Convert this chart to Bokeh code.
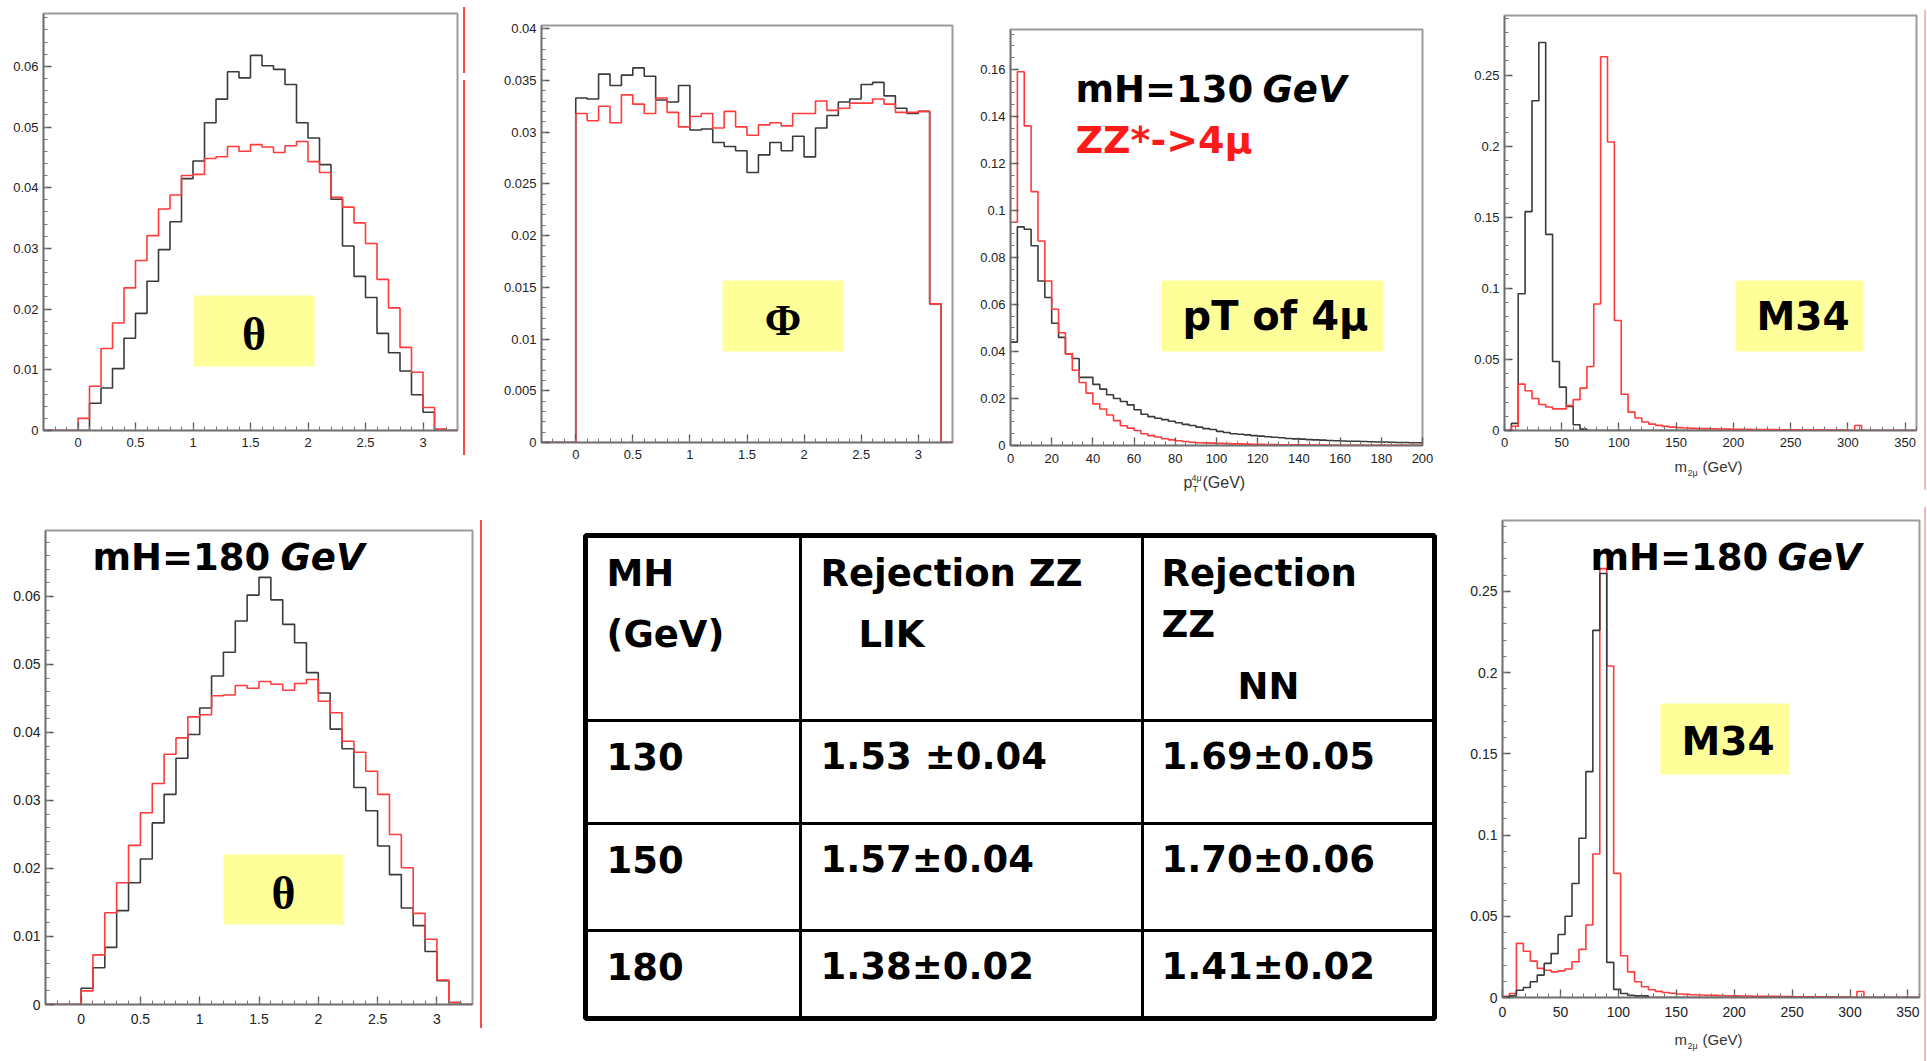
import numpy as np
from bokeh.plotting import figure
from bokeh.models import (Range1d, FixedTicker, CustomJSTickFormatter, BoxAnnotation,
                          Label, Spacer, Div)
from bokeh.layouts import row, column
from bokeh.embed import file_html
from bokeh.resources import INLINE
from bokeh.core.properties import value

# ------------------------------------------------------------------ data
theta_edges = [round(0.1 * i, 1) for i in range(33)]          # 0 .. 3.2
theta130_bkg = [0.0, 0.0045, 0.0070, 0.0102, 0.0152, 0.0193, 0.0246, 0.0298,
                0.0344, 0.0415, 0.0444, 0.0507, 0.0546, 0.0591, 0.0581, 0.0618,
                0.0601, 0.0595, 0.0570, 0.0507, 0.0482, 0.0438, 0.0381, 0.0304,
                0.0254, 0.0219, 0.0160, 0.0128, 0.0098, 0.0059, 0.0030, 0.0002]
theta130_sig = [0.0020, 0.0073, 0.0135, 0.0177, 0.0235, 0.0280, 0.0321, 0.0365,
                0.0388, 0.0420, 0.0422, 0.0448, 0.0451, 0.0468, 0.0460, 0.0471,
                0.0467, 0.0458, 0.0469, 0.0476, 0.0443, 0.0425, 0.0384, 0.0368,
                0.0342, 0.0308, 0.0249, 0.0202, 0.0137, 0.0096, 0.0038, 0.0002]
theta180_bkg = [0.0024, 0.0054, 0.0084, 0.0138, 0.0179, 0.0214, 0.0267, 0.0309,
                0.0362, 0.0397, 0.0436, 0.0483, 0.0518, 0.0564, 0.0602, 0.0628,
                0.0595, 0.0559, 0.0532, 0.0488, 0.0458, 0.0405, 0.0376, 0.0319,
                0.0285, 0.0233, 0.0191, 0.0142, 0.0116, 0.0078, 0.0035, 0.0003]
theta180_sig = [0.0020, 0.0073, 0.0135, 0.0179, 0.0234, 0.0282, 0.0325, 0.0368,
                0.0392, 0.0423, 0.0426, 0.0454, 0.0455, 0.0469, 0.0465, 0.0475,
                0.0471, 0.0462, 0.0472, 0.0478, 0.0446, 0.0429, 0.0387, 0.0371,
                0.0343, 0.0309, 0.0250, 0.0201, 0.0134, 0.0096, 0.0036, 0.0003]

phi_edges = [round(0.1 * i, 1) for i in range(33)]
phi_bkg = [0.0333, 0.0332, 0.0356, 0.0345, 0.0355, 0.0362, 0.0354, 0.0331,
           0.0329, 0.0345, 0.0302, 0.0303, 0.0290, 0.0286, 0.0282, 0.0261,
           0.0278, 0.0290, 0.0282, 0.0296, 0.0276, 0.0304, 0.0316, 0.0329,
           0.0332, 0.0346, 0.0348, 0.0335, 0.0323, 0.0318, 0.0320, 0.0134]
phi_sig = [0.0318, 0.0311, 0.0325, 0.0309, 0.0336, 0.0327, 0.0318, 0.0333,
           0.0319, 0.0305, 0.0315, 0.0318, 0.0304, 0.0320, 0.0305, 0.0297,
           0.0307, 0.0309, 0.0306, 0.0318, 0.0318, 0.0330, 0.0321, 0.0323,
           0.0328, 0.0328, 0.0332, 0.0327, 0.0319, 0.0319, 0.0320, 0.0134]

pt_edges = [200.0 * i / 60 for i in range(61)]
pt_bkg = [0.044, 0.093, 0.092, 0.085, 0.070, 0.063, 0.052, 0.046, 0.039, 0.037,
          0.029, 0.029, 0.026, 0.024, 0.0216, 0.020, 0.0187, 0.0173, 0.0152, 0.0133,
          0.0123, 0.0116, 0.011, 0.0103, 0.0097, 0.009, 0.0085, 0.0078, 0.0072, 0.0068,
          0.006, 0.0055, 0.005, 0.0048, 0.0045, 0.0042, 0.004, 0.0037, 0.0035, 0.0033,
          0.003, 0.0028, 0.0027, 0.0025, 0.0024, 0.0023, 0.0021, 0.002, 0.0019, 0.0018,
          0.0018, 0.0017, 0.0016, 0.0015, 0.0015, 0.0014, 0.0013, 0.0013, 0.0012, 0.0012]
pt_sig = [0.095, 0.159, 0.136, 0.108, 0.087, 0.070, 0.058, 0.048, 0.039, 0.032,
          0.0268, 0.0223, 0.0177, 0.0155, 0.013, 0.0106, 0.0084, 0.0074, 0.0064, 0.005,
          0.0042, 0.0036, 0.0029, 0.0024, 0.002, 0.0017, 0.0014, 0.0012, 0.0011, 0.001,
          0.0009, 0.0008, 0.0007, 0.0007, 0.0006, 0.0005, 0.0005, 0.0004, 0.0004, 0.0003,
          0.0003, 0.0003, 0.0003, 0.0002, 0.0002, 0.0002, 0.0001, 0.0001, 0.0001, 0.0001,
          0.0001, 0.0001, 0.0001, 0.0001, 0.0001, 0.0001, 0.0001, 0.0001, 0.0001, 0.0001]

m34_edges = [6 * i for i in range(61)]
m34_130_bkg = [0.0, 0.005, 0.0962, 0.154, 0.232, 0.273, 0.138, 0.0486, 0.0305, 0.017,
               0.004, 0.001, 0.0, 0.0, 0.0, 0.0, 0.0, 0.0, 0.0, 0.0,
               0.0, 0.0, 0.0, 0.0, 0.0, 0.0, 0.0, 0.0, 0.0, 0.0,
               0.0, 0.0, 0.0, 0.0, 0.0, 0.0, 0.0, 0.0, 0.0, 0.0,
               0.0, 0.0, 0.0, 0.0, 0.0, 0.0, 0.0, 0.0, 0.0, 0.0,
               0.0, 0.0, 0.0, 0.0, 0.0, 0.0, 0.0, 0.0, 0.0, 0.0]
m34_130_sig = [0.0, 0.003, 0.0326, 0.028, 0.0225, 0.0183, 0.0165, 0.0152, 0.0152, 0.0176,
               0.0217, 0.0298, 0.045, 0.089, 0.263, 0.203, 0.0774, 0.0255, 0.0129, 0.0088,
               0.006, 0.0045, 0.0036, 0.0029, 0.0024, 0.002, 0.0018, 0.0016, 0.0014, 0.0013,
               0.0012, 0.0011, 0.001, 0.0009, 0.0008, 0.0008, 0.0007, 0.0007, 0.0006, 0.0006,
               0.0005, 0.0005, 0.0005, 0.0004, 0.0004, 0.0004, 0.0003, 0.0003, 0.0003, 0.0003,
               0.0, 0.0035, 0.0, 0.0, 0.0, 0.0, 0.0, 0.0, 0.0, 0.0]
m34_180_bkg = [0.0005, 0.001, 0.0045, 0.0062, 0.0097, 0.0138, 0.021, 0.027, 0.0388, 0.050,
               0.0702, 0.098, 0.139, 0.226, 0.261, 0.0216, 0.005, 0.0025, 0.0014, 0.001,
               0.001, 0.0, 0.0, 0.0, 0.0, 0.0, 0.0, 0.0, 0.0, 0.0,
               0.0, 0.0, 0.0, 0.0, 0.0, 0.0, 0.0, 0.0, 0.0, 0.0,
               0.0, 0.0, 0.0, 0.0, 0.0, 0.0, 0.0, 0.0, 0.0, 0.0,
               0.0, 0.0, 0.0, 0.0, 0.0, 0.0, 0.0, 0.0, 0.0, 0.0]
m34_180_sig = [0.0008, 0.0025, 0.0333, 0.0285, 0.0224, 0.0179, 0.0168, 0.0158, 0.0164, 0.0175,
               0.022, 0.0296, 0.0446, 0.0883, 0.264, 0.204, 0.0764, 0.0257, 0.0158, 0.0097,
               0.0066, 0.0048, 0.0038, 0.0031, 0.0026, 0.0022, 0.0019, 0.0017, 0.0015, 0.0014,
               0.0013, 0.0012, 0.0011, 0.001, 0.0009, 0.0009, 0.0008, 0.0008, 0.0007, 0.0007,
               0.0006, 0.0006, 0.0005, 0.0005, 0.0005, 0.0004, 0.0004, 0.0004, 0.0003, 0.0003,
               0.0, 0.0037, 0.0, 0.0, 0.0, 0.0, 0.0, 0.0, 0.0, 0.0]

# tick labels
theta_xticks = [0, 0.5, 1, 1.5, 2, 2.5, 3]
theta_yticks = [0, 0.01, 0.02, 0.03, 0.04, 0.05, 0.06]
phi_yticks = [0, 0.005, 0.01, 0.015, 0.02, 0.025, 0.03, 0.035, 0.04]
pt_xticks = [0, 20, 40, 60, 80, 100, 120, 140, 160, 180, 200]
pt_yticks = [0, 0.02, 0.04, 0.06, 0.08, 0.1, 0.12, 0.14, 0.16]
m34_xticks = [0, 50, 100, 150, 200, 250, 300, 350]
m34_yticks = [0, 0.05, 0.1, 0.15, 0.2, 0.25]

# table
table_mh = ["130", "150", "180"]
table_lik = ["1.53 ±0.04", "1.57±0.04", "1.38±0.02"]
table_nn = ["1.69±0.05", "1.70±0.06", "1.41±0.02"]

# ------------------------------------------------------------------ helpers
BLACK_H = "#3a3a3a"
RED_H = "#ff3b3b"
YELLOW = "#ffff99"
AXIS_TXT = "#333333"
FMT = CustomJSTickFormatter(code="return String(parseFloat(tick.toFixed(4)));")
# measured vertical correction (fraction of font size) between requested and drawn baseline
SHIFT = {"DejaVu Sans": 0.37, "Liberation Serif": 0.28, "Liberation Sans": 0.37}


def minor(lo, hi, step):
    n = int(round((hi - lo) / step))
    return [lo + step * i for i in range(n + 1)]


def make_panel(ox, oy, w, h, L, R, T, B, xr, yr, xt, xmin, yt, ymin, fs, xstand):
    p = figure(width=w, height=h, output_backend="svg", toolbar_location=None,
               title_location=None,
               x_range=Range1d(*xr), y_range=Range1d(*yr),
               min_border_left=L, min_border_right=R, min_border_top=T, min_border_bottom=B)
    p.frame_align = False
    p.grid.visible = False
    p.outline_line_color = "#9c9c9c"
    p.outline_line_width = 2
    p.background_fill_color = "white"
    p.border_fill_color = "white"
    for ax in (p.xaxis[0], p.yaxis[0]):
        ax.major_tick_in = 8
        ax.major_tick_out = 0
        ax.minor_tick_in = 4
        ax.minor_tick_out = 0
        ax.axis_line_color = "#6e6e6e"
        ax.axis_line_width = 1.5
        ax.major_tick_line_color = "#555555"
        ax.minor_tick_line_color = "#777777"
        ax.major_tick_line_width = 1.3
        ax.minor_tick_line_width = 1.0
        ax.major_label_text_font = "Liberation Sans"
        ax.major_label_text_font_size = f"{fs}px"
        ax.major_label_text_color = "#222222"
        ax.formatter = FMT
    p.xaxis[0].ticker = FixedTicker(ticks=xt, minor_ticks=xmin)
    p.yaxis[0].ticker = FixedTicker(ticks=yt, minor_ticks=ymin)
    p.xaxis[0].major_label_standoff = xstand
    p.yaxis[0].major_label_standoff = 5

    fl, fr, ft, fb = ox + L, ox + w - R, oy + T, oy + h - B

    def pos(px, py):
        return (xr[0] + (px - fl) / (fr - fl) * (xr[1] - xr[0]),
                yr[0] + (fb - py) / (fb - ft) * (yr[1] - yr[0]))
    return p, pos


def caption(ox, oy, w, h, parts):
    """Small strip below a panel holding a composite axis title (page pixel coords)."""
    c = figure(width=w, height=h, output_backend="svg", toolbar_location=None,
               title_location=None, x_range=Range1d(ox, ox + w), y_range=Range1d(oy + h, oy),
               x_axis_location=None, y_axis_location=None, min_border=0)
    c.frame_align = False
    c.grid.visible = False
    c.outline_line_color = None
    for px, py, s, size in parts:
        c.text(x=[px], y=[py - SHIFT["Liberation Sans"] * size], text=[s],
               text_font=value("Liberation Sans"),
               text_font_size=f"{size}px", text_baseline="alphabetic",
               text_align="left", text_color=AXIS_TXT)
    return c


def draw_hist(p, edges, vals, color, lo=None, hi=None):
    xs = list(edges)
    ys = list(vals) + [0.0]
    if lo is not None:
        xs = [lo] + xs
        ys = [0.0] + ys
    if hi is not None:
        xs = xs + [hi]
        ys = ys + [0.0]
    p.step(xs, ys, mode="after", line_color=color, line_width=1.6)


def ybox(p, pos, l, r, t, b):
    x0, y0 = pos(l, b)
    x1, y1 = pos(r, t)
    p.add_layout(BoxAnnotation(left=x0, right=x1, bottom=y0, top=y1,
                               fill_color=YELLOW, fill_alpha=1.0, line_color=None))


def label(p, pos, px, py, s, size, font="DejaVu Sans", style="bold", color="black",
          align="left"):
    x, y = pos(px, py - SHIFT[font] * size)
    p.add_layout(Label(x=x, y=y, text=s, text_font=font, text_font_size=f"{size}px",
                       text_font_style=style, text_color=color, text_align=align,
                       text_baseline="alphabetic"))


def vline(h_top, segs, color):
    kids = [Spacer(width=2, height=h_top, margin=0)] if h_top else []
    for kind, hh in segs:
        if kind == "line":
            kids.append(Div(width=2, height=hh, margin=0,
                            styles={"background-color": color}))
        else:
            kids.append(Spacer(width=2, height=hh, margin=0))
    return column(*kids, spacing=0)


# ------------------------------------------------------------------ panel A: theta (130)
pA, posA = make_panel(0, 0, 463, 500, 43, 6, 13, 70, (-0.3, 3.3), (0, 0.0687),
                      theta_xticks, minor(-0.3, 3.3, 0.1), theta_yticks,
                      minor(0, 0.068, 0.002), 13, 7)
draw_hist(pA, theta_edges, theta130_bkg, BLACK_H, -0.3, 3.3)
draw_hist(pA, theta_edges, theta130_sig, RED_H, -0.3, 3.3)
ybox(pA, posA, 193, 314, 295, 366)
label(pA, posA, 253.5, 347, "θ", 46, font="Liberation Serif", align="center")

# ------------------------------------------------------------------ panel B: phi
pB, posB = make_panel(490, 0, 475, 500, 51, 13, 25, 58, (-0.3, 3.3), (0, 0.0403),
                      theta_xticks, minor(-0.3, 3.3, 0.1), phi_yticks,
                      minor(0, 0.040, 0.001), 13, 7)
draw_hist(pB, phi_edges, phi_bkg, BLACK_H, -0.3, 3.3)
draw_hist(pB, phi_edges, phi_sig, RED_H, -0.3, 3.3)
ybox(pB, posB, 722, 843, 280, 351)
label(pB, posB, 782.5, 332, "Φ", 44, font="Liberation Serif", align="center")

# ------------------------------------------------------------------ panel C: pT
pC, posC = make_panel(965, 0, 475, 470, 45, 18, 29, 25, (0, 200), (0, 0.177),
                      pt_xticks, minor(0, 200, 5), pt_yticks,
                      minor(0, 0.175, 0.005), 13, 8)
draw_hist(pC, pt_edges, pt_bkg, BLACK_H)
draw_hist(pC, pt_edges, pt_sig, RED_H)
ybox(pC, posC, 1161, 1383, 280, 351)
label(pC, posC, 1182, 330, "pT of 4μ", 40)
label(pC, posC, 1075, 103, "mH=130", 37)
label(pC, posC, 1262, 103, "GeV", 37, style="bold italic")
label(pC, posC, 1075, 154, "ZZ*->4μ", 38, color="#ff1a1a")
capC = caption(965, 470, 475, 30, [(1183, 488, "p", 16), (1192, 492, "T", 9),
                                   (1191, 481, "4μ", 9), (1202, 488, "(GeV)", 16)])

# ------------------------------------------------------------------ panel D: M34 (130)
pD, posD = make_panel(1440, 0, 484, 458, 64, 8, 15, 28, (0, 360), (0, 0.292),
                      m34_xticks, minor(0, 360, 10), m34_yticks,
                      minor(0, 0.29, 0.01), 13, 7)
draw_hist(pD, m34_edges, m34_130_bkg, BLACK_H)
draw_hist(pD, m34_edges, m34_130_sig, RED_H)
ybox(pD, posD, 1735, 1863, 280, 351)
label(pD, posD, 1756, 330, "M34", 39)
capD = caption(1440, 458, 484, 42, [(1674, 472, "m", 15), (1687, 476, "2μ", 9),
                                    (1702, 472, "(GeV)", 15)])

# ------------------------------------------------------------------ panel E: theta (180)
pE, posE = make_panel(0, 500, 478, 561, 45, 6, 30, 57, (-0.3, 3.3), (0, 0.0697),
                      theta_xticks, minor(-0.3, 3.3, 0.1), theta_yticks,
                      minor(0, 0.068, 0.002), 14, 9)
draw_hist(pE, theta_edges, theta180_bkg, BLACK_H, -0.3, 3.3)
draw_hist(pE, theta_edges, theta180_sig, RED_H, -0.3, 3.3)
ybox(pE, posE, 223, 343, 854, 924)
label(pE, posE, 283, 906, "θ", 46, font="Liberation Serif", align="center")
label(pE, posE, 92, 571, "mH=180", 37)
label(pE, posE, 280, 571, "GeV", 37, style="bold italic")

# ------------------------------------------------------------------ panel F: M34 (180)
pF, posF = make_panel(1440, 500, 484, 527, 62, 5, 20, 30, (0, 360), (0, 0.2936),
                      m34_xticks, minor(0, 360, 10), m34_yticks,
                      minor(0, 0.29, 0.01), 14, 9)
draw_hist(pF, m34_edges, m34_180_sig, RED_H)
draw_hist(pF, m34_edges, m34_180_bkg, BLACK_H)
ybox(pF, posF, 1660, 1789, 703, 774)
label(pF, posF, 1681, 755, "M34", 39)
label(pF, posF, 1590, 571, "mH=180", 37)
label(pF, posF, 1777, 571, "GeV", 37, style="bold italic")
capF = caption(1440, 1027, 484, 34, [(1674, 1045, "m", 15), (1687, 1049, "2μ", 9),
                                     (1702, 1045, "(GeV)", 15)])

# ------------------------------------------------------------------ table
T_X0, T_W, T_Y0, T_H = 482, 958, 500, 561
T_FS = 37
col_edges = [585, 800, 1142, 1434]
row_edges = [535, 720, 823, 930, 1018]
pT = figure(width=T_W, height=T_H, output_backend="svg", toolbar_location=None,
            title_location=None,
            x_range=Range1d(T_X0, T_X0 + T_W), y_range=Range1d(T_Y0 + T_H, T_Y0),
            x_axis_location=None, y_axis_location=None, min_border=0)
pT.frame_align = False
pT.grid.visible = False
pT.outline_line_color = None
pT.segment(x0=[col_edges[1], col_edges[2]], y0=[row_edges[0]] * 2,
           x1=[col_edges[1], col_edges[2]], y1=[row_edges[-1]] * 2,
           line_color="black", line_width=3)
pT.segment(x0=[col_edges[0]] * 3, y0=row_edges[1:4], x1=[col_edges[-1]] * 3,
           y1=row_edges[1:4], line_color="black", line_width=3)
pT.quad(left=[col_edges[0]], right=[col_edges[-1]], top=[row_edges[0]],
        bottom=[row_edges[-1]], fill_color=None, line_color="black", line_width=5)

hx = [col_edges[0] + 21, col_edges[0] + 21, col_edges[1] + 20, col_edges[1] + 58,
      col_edges[2] + 19, col_edges[2] + 19, col_edges[2] + 95]
hy = [587, 648, 587, 648, 587, 638, 700]
htxt = ["MH", "(GeV)", "Rejection ZZ", "LIK", "Rejection", "ZZ", "NN"]
cx, cy, ctxt = [], [], []
for i in range(3):
    base = row_edges[i + 1] + 50
    for j, s in enumerate((table_mh[i], table_lik[i], table_nn[i])):
        cx.append(col_edges[j] + 21 - j)
        cy.append(base)
        ctxt.append(s)
tshift = SHIFT["DejaVu Sans"] * T_FS
pT.text(x=hx + cx, y=[v - tshift for v in hy + cy], text=htxt + ctxt,
        text_font=value("DejaVu Sans"),
        text_font_style="bold", text_font_size=f"{T_FS}px", text_baseline="alphabetic",
        text_align="left", text_color="black")

# ------------------------------------------------------------------ layout
redA = vline(7, [("line", 66), ("gap", 7), ("line", 375)], "#ff4a4a")
pinkD = vline(10, [("line", 480)], "#f7b8b8")
redE = vline(20, [("line", 508)], "#ff4a4a")
pinkF = vline(7, [("line", 554)], "#f7b8b8")

colC = column(pC, capC, spacing=0)
colD = column(pD, capD, spacing=0)
colF = column(pF, capF, spacing=0)

top = row(pA, redA, Spacer(width=25, height=500, margin=0), pB, colC, colD, pinkD, spacing=0)
bottom = row(pE, Spacer(width=2, height=561, margin=0), redE, pT, colF, pinkF, spacing=0)
layout = column(top, bottom, spacing=0)

open("out.html", "w").write(file_html(layout, INLINE, title="H to ZZ* to 4mu"))
